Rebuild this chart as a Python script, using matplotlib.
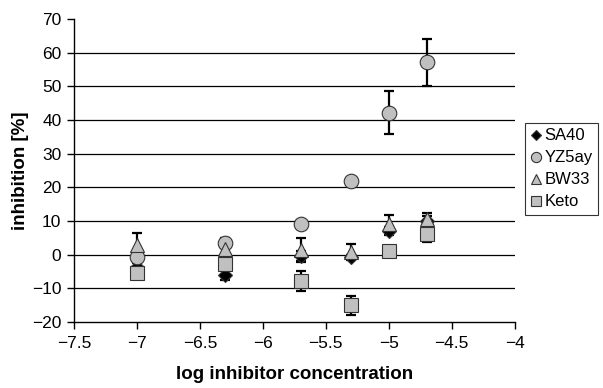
import numpy as np
import matplotlib
matplotlib.use("Agg")
import matplotlib.pyplot as plt

plt.rcParams["font.family"] = ["Liberation Sans", "DejaVu Sans"]

# log inhibitor concentration
log_conc = [-7.0, -6.3, -5.7, -5.3, -5.0, -4.7]

sa40 = [-3.6, -6.0, -0.3, -0.6, 7.0, 10.0]
sa40_err = [1.0, 1.6, 1.5, 0.6, 1.2, 1.5]

yz5ay = [-0.7, 3.5, 9.2, 21.8, 42.2, 57.2]
yz5ay_err = [1.0, 1.5, 0.8, 0.8, 6.3, 7.0]

bw33 = [2.8, 1.6, 1.3, 0.8, 9.2, 10.5]
bw33_err = [3.6, 1.5, 3.6, 2.5, 2.5, 1.8]

keto = [-5.4, -2.7, -7.9, -15.0, 1.1, 6.2]
keto_err = [1.0, 1.0, 3.0, 2.8, 0.8, 2.4]

SERIES = [
    ("SA40", sa40, sa40_err, "D", "black", 7.5),
    ("YZ5ay", yz5ay, yz5ay_err, "o", "#c0c0c0", 10.5),
    ("BW33", bw33, bw33_err, "^", "#c0c0c0", 10.5),
    ("Keto", keto, keto_err, "s", "#c0c0c0", 10),
]

fig = plt.figure(figsize=(6.03, 3.88), dpi=100)
ax = fig.add_axes([0.1227, 0.170, 0.731, 0.781])

handles = []
for name, vals, err, mk, fc, ms in SERIES:
    ax.errorbar(log_conc, vals, yerr=err, fmt="none", ecolor="black",
                elinewidth=1.6, capsize=3.5, capthick=1.6, zorder=3)
    h, = ax.plot(log_conc, vals, linestyle="none", marker=mk, markersize=ms,
                 markerfacecolor=fc, markeredgecolor="#333333",
                 markeredgewidth=0.8, zorder=4, label=name)
    handles.append(h)

ax.set_xlim(-7.5, -4)
ax.set_ylim(-20, 70)
ax.set_xticks(np.arange(-7.5, -3.99, 0.5))
ax.set_xticklabels(["\u22127.5", "\u22127", "\u22126.5", "\u22126",
                    "\u22125.5", "\u22125", "\u22124.5", "\u22124"])
ax.set_yticks(np.arange(-20, 71, 10))
for y in range(-10, 61, 10):
    ax.axhline(y, color="black", linewidth=0.9, zorder=1)

ax.spines["top"].set_visible(False)
ax.spines["right"].set_visible(False)
ax.spines["left"].set_linewidth(1.0)
ax.spines["bottom"].set_linewidth(1.0)
ax.tick_params(axis="both", direction="out", length=5, width=1.0,
               labelsize=12.5)
ax.tick_params(axis="x", pad=5)
ax.tick_params(axis="y", pad=4)

ax.set_xlabel("log inhibitor concentration", fontsize=13.5, fontweight="bold",
              labelpad=11)
ax.set_ylabel("inhibition [%]", fontsize=13.5, fontweight="bold", labelpad=2)

leg = fig.legend(handles=handles, loc="upper left",
                 bbox_to_anchor=(0.871, 0.684), borderaxespad=0,
                 fontsize=12, frameon=True, fancybox=False, edgecolor="black",
                 handlelength=0.55, handletextpad=0.25, borderpad=0.35,
                 labelspacing=0.42, markerscale=0.7)
leg.get_frame().set_linewidth(0.8)

fig.savefig("out.png", dpi=100)
